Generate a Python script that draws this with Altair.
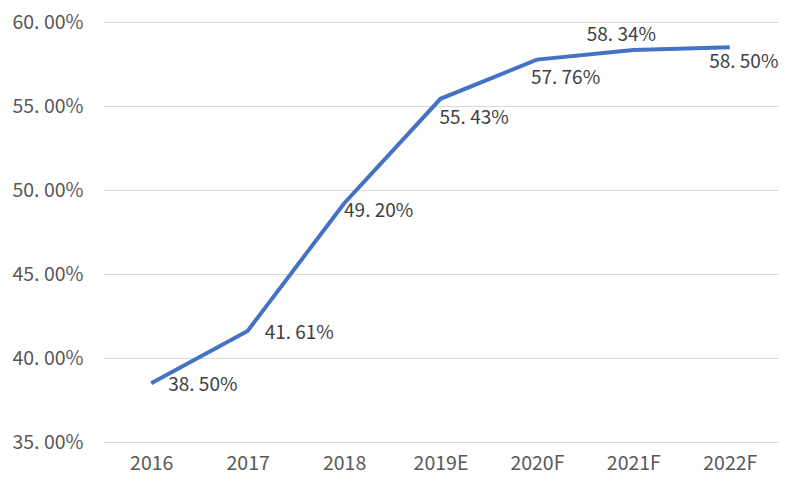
import altair as alt
import pandas as pd

years = ["2016", "2017", "2018", "2019E", "2020F", "2021F", "2022F"]
values = [38.50, 41.61, 49.20, 55.43, 57.76, 58.34, 58.50]
labels = ["38. 50%", "41. 61%", "49. 20%", "55. 43%", "57. 76%", "58. 34%", "58. 50%"]

df = pd.DataFrame({"year": years, "value": values, "label": labels})

FONT = "Noto Sans CJK SC"

x = alt.X("year:N", sort=years, title=None,
          scale=alt.Scale(paddingInner=0, paddingOuter=0),
          axis=alt.Axis(labelAngle=0, domain=False, ticks=False, grid=False,
                        labelFontSize=19.5, labelColor="#595959", labelFont=FONT,
                        labelPadding=12))
y = alt.Y("value:Q", title=None,
          scale=alt.Scale(domain=[35, 60], nice=False, zero=False),
          axis=alt.Axis(values=[35, 40, 45, 50, 55, 60], domain=False, ticks=False,
                        gridColor="#d9d9d9", gridWidth=1.2,
                        labelExpr="replace(format(datum.value, '.2f'), '.', '. ') + '%'",
                        labelFontSize=19.5, labelColor="#595959", labelFont=FONT,
                        labelPadding=20))

base = alt.Chart(df)
line = base.mark_line(color="#4472C4", strokeWidth=4).encode(x=x, y=y)


def lbl(sel, align, dx, dy):
    return base.transform_filter(
        alt.FieldOneOfPredicate(field="year", oneOf=sel)
    ).mark_text(align=align, baseline="middle", dx=dx, dy=dy, fontSize=19,
                font=FONT, color="#404040").encode(
        x=alt.X("year:N", sort=years), y="value:Q", text="label:N")


layers = [
    line,
    lbl(["2016", "2017"], "left", 17, 2),
    lbl(["2018"], "left", 0, 8),
    lbl(["2019E"], "left", -1, 19),
    lbl(["2020F"], "left", -6, 18),
    lbl(["2021F"], "center", -12, -15),
    lbl(["2022F"], "center", 14, 15),
]

chart = alt.layer(*layers).properties(
    width=675, height=420,
    autosize=alt.AutoSizeParams(type="none"),
    padding={"left": 103, "top": 22, "right": 22, "bottom": 50},
    background="white",
).configure_view(stroke=None)

chart.save("out.html", embed_options={"renderer": "svg", "actions": False})
